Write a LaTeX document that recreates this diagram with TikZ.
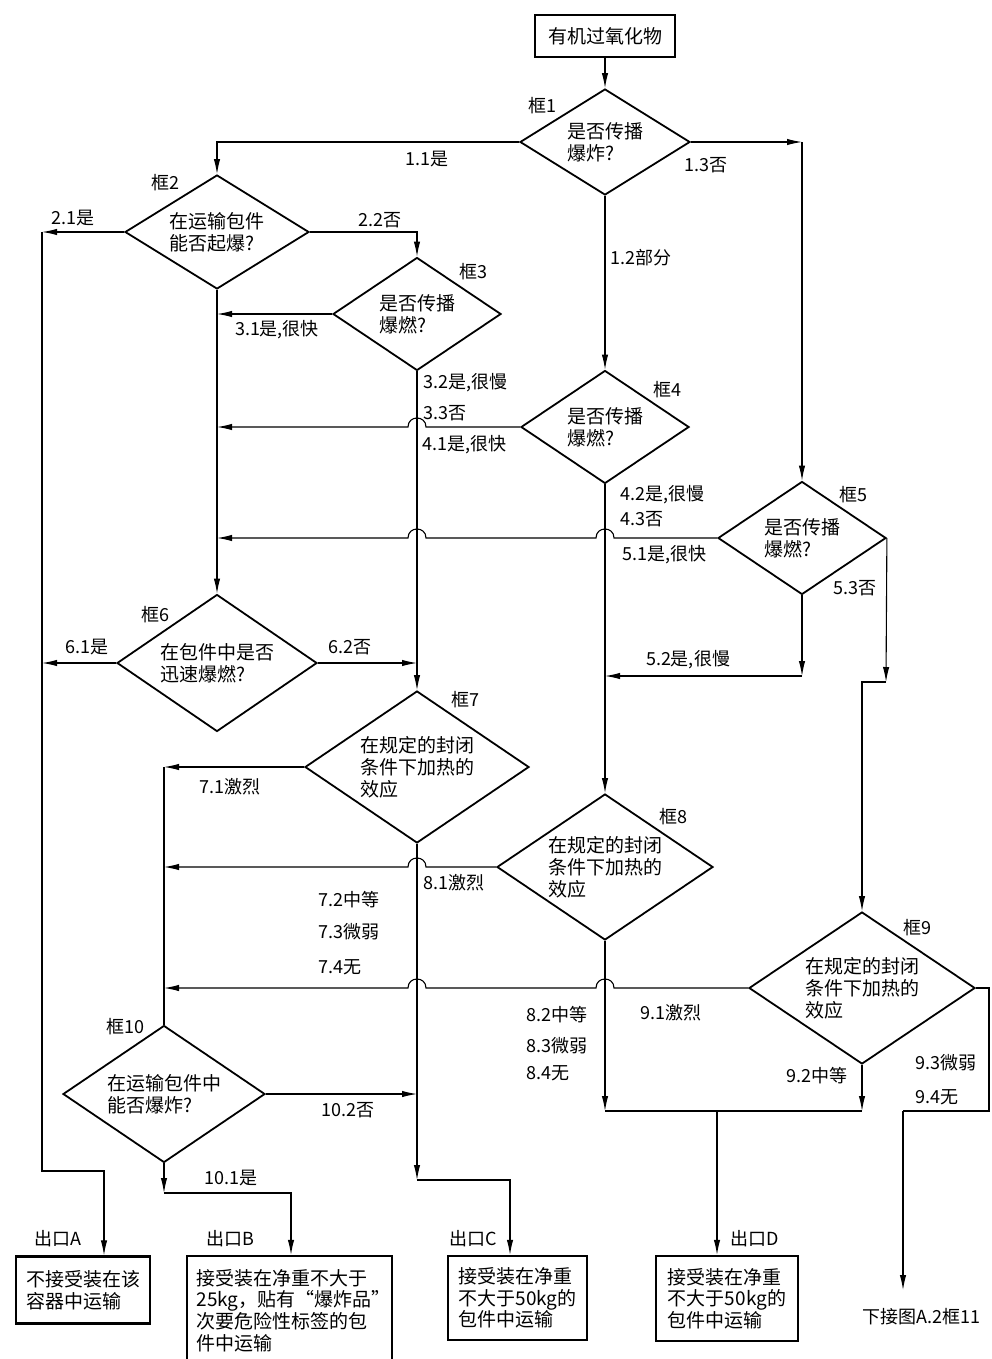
\documentclass[tikz,border=0pt]{standalone}
\usepackage{fontspec}
\newfontfamily\cjk{Noto Sans CJK SC}
\usetikzlibrary{shapes.geometric,arrows.meta}

\begin{document}
\begin{tikzpicture}[x=0.5pt,y=-0.5pt,line width=0.55pt,
    every node/.style={inner sep=0pt,font=\cjk\fontsize{9}{10}\selectfont},
    dec/.style={diamond,draw,line width=0.9pt,shape aspect=1.5,align=left,font=\cjk\fontsize{9.5}{11}\selectfont},
    exitbox/.style={draw,line width=1.1pt,align=left,font=\cjk\fontsize{9.5}{10.8}\selectfont},
    flow/.style={-{Latex[length=7.5pt,width=3.2pt]}}]
    \clip (0,0) rectangle (991,1359);

    \node[exitbox,minimum width=70pt,minimum height=21pt] (top) at (605,36) {有机过氧化物};
    \node[dec,minimum width=85pt,minimum height=53pt] (d1) at (605,142) {是否传播\\爆炸?};
    \node[dec,minimum width=92pt,minimum height=57pt] (d2) at (217,232) {在运输包件\\能否起爆?};
    \node[dec,minimum width=84pt,minimum height=56.5pt] (d3) at (417,314) {是否传播\\爆燃?};
    \node[dec,minimum width=84pt,minimum height=56.5pt] (d4) at (605,427) {是否传播\\爆燃?};
    \node[dec,minimum width=84pt,minimum height=56.5pt] (d5) at (802,538) {是否传播\\爆燃?};
    \node[dec,minimum width=100pt,minimum height=68.5pt] (d6) at (217,663) {在包件中是否\\迅速爆燃?};
    \node[dec,minimum width=112pt,minimum height=76pt] (d7) at (417,767) {在规定的封闭\\条件下加热的\\效应};
    \node[dec,minimum width=108pt,minimum height=73pt] (d8) at (605,867) {在规定的封闭\\条件下加热的\\效应};
    \node[dec,minimum width=113pt,minimum height=76pt] (d9) at (862,988) {在规定的封闭\\条件下加热的\\效应};
    \node[dec,minimum width=101pt,minimum height=68.5pt] (d10) at (164,1094) {在运输包件中\\能否爆炸?};

    \node (k1) at (542,106) {框1};
    \node (k2) at (165,183) {框2};
    \node (k3) at (473,272) {框3};
    \node (k4) at (667,390) {框4};
    \node (k5) at (853,495) {框5};
    \node (k6) at (155,615) {框6};
    \node (k7) at (465,700) {框7};
    \node (k8) at (673,817) {框8};
    \node (k9) at (917,928) {框9};
    \node (k10) at (125,1027) {框10};

    \node[exitbox,minimum width=67pt,minimum height=33.5pt] (exA) at (83,1290) {不接受装在该\\容器中运输};
    \node[exitbox,text width=93pt,minimum width=102.5pt,minimum height=54.5pt] (exB) at (289.5,1310.5) {接受装在净重不大于\\25kg，贴有“爆炸品”\\次要危险性标签的包\\件中运输};
    \node[exitbox,minimum width=69.5pt,minimum height=42pt] (exC) at (517.5,1298) {接受装在净重\\不大于50kg的\\包件中运输};
    \node[exitbox,minimum width=71pt,minimum height=42.5pt] (exD) at (727,1298.5) {接受装在净重\\不大于50kg的\\包件中运输};
    \node (oA) at (58,1239) {出口A};
    \node (oB) at (230,1239) {出口B};
    \node (oC) at (473,1239) {出口C};
    \node (oD) at (755,1239) {出口D};
    \node[anchor=west] (nx) at (862,1317) {下接图A.2框11};

    \draw[flow] (top) -- (d1);
    \draw[flow] (d1.west) -| (d2.north);
    \coordinate (c13) at (d5.north |- d1.east);
    \draw[flow] (d1.east) -- (c13);
    \draw[flow] (c13) -- (d5.north);
    \draw[flow] (d1.south) -- (d4.north);
    \coordinate (cA1) at (42,232);
    \coordinate (cA2) at (104,1171);
    \draw[flow] (d2.west) -- (cA1);
    \draw[flow] (cA1) |- (cA2) -- (cA2 |- exA.north);
    \draw[flow] (d2.east) -| (d3.north);
    \draw[flow] (d3.west) -- (d3.west -| d2.south);
    \draw[flow] (d2.south) -- (d6.north);
    \draw[flow] (d3.south) -- (d7.north);
    \draw[flow] (d4.west) -- (426,427) .. controls (426,415) and (408,415) .. (408,427) -- (d4.west -| d2.south);
    \draw[flow] (d4.south) -- (d8.north);
    \draw[flow] (d5.west) -- (614,538) .. controls (614,526) and (596,526) .. (596,538)
        -- (426,538) .. controls (426,526) and (408,526) .. (408,538) -- (d5.west -| d2.south);
    \coordinate (c52) at (802,676);
    \draw[flow] (d5.south) -- (c52);
    \draw[flow] (c52) -- (c52 -| d8.north);
    \coordinate (c53) at (886,682);
    \draw[flow] (d5.east) -- (c53);
    \draw[flow] (c53) -| (d9.north);
    \draw[flow] (d6.west) -- (d6.west -| cA1);
    \draw[flow] (d6.east) -- (d6.east -| d7.north);
    \coordinate (c71) at (164,767);
    \draw[flow] (d7.west) -- (c71);
    \draw (c71) -- (d10.north);
    \draw[flow] (d8.west) -- (426,867) .. controls (426,855) and (408,855) .. (408,867) -- (d8.west -| c71);
    \draw[flow] (d9.west) -- (614,988) .. controls (614,976) and (596,976) .. (596,988)
        -- (426,988) .. controls (426,976) and (408,976) .. (408,988) -- (d9.west -| c71);
    \coordinate (c72) at (417,1180);
    \coordinate (c72b) at (510,1180);
    \draw[flow] (d7.south) -- (c72);
    \draw[flow] (c72) -- (c72b) -- (c72b |- exC.north);
    \draw[flow] (d10.east) -- (d10.east -| d7.south);
    \coordinate (c101) at (164,1193);
    \coordinate (c101b) at (291,1193);
    \draw[flow] (d10.south) -- (c101);
    \draw[flow] (c101) -- (c101b) -- (c101b |- exB.north);
    \coordinate (c82) at (605,1111);
    \coordinate (c92) at (862,1111);
    \draw[flow] (d8.south) -- (c82);
    \draw[flow] (d9.south) -- (c92);
    \draw (c82) -- (c92);
    \coordinate (cD) at (717,1111);
    \draw[flow] (cD) -- (cD |- exD.north);
    \coordinate (c94) at (903,1111);
    \coordinate (c94b) at (903,1290);
    \draw (d9.east) -- (989,988) |- (c94);
    \draw[flow] (c94) -- (c94b);

    \node (l11) at (427,159) {1.1是};
    \node[anchor=west] (l12) at (610,258) {1.2部分};
    \node (l13) at (706,165) {1.3否};
    \node (l21) at (73,218) {2.1是};
    \node (l22) at (380,220) {2.2否};
    \node (l31) at (277,330) {3.1是,很快};
    \node[anchor=west] (l32) at (423,383) {3.2是,很慢};
    \node[anchor=west] (l33) at (423,413) {3.3否};
    \node[anchor=west] (l41) at (422,445) {4.1是,很快};
    \node[anchor=west] (l42) at (620,495) {4.2是,很慢};
    \node[anchor=west] (l43) at (620,519) {4.3否};
    \node[anchor=west] (l51) at (622,555) {5.1是,很快};
    \node (l52) at (688,660) {5.2是,很慢};
    \node (l53) at (855,588) {5.3否};
    \node (l61) at (87,647) {6.1是};
    \node (l62) at (350,647) {6.2否};
    \node (l71) at (230,787) {7.1激烈};
    \node[anchor=west] (l72) at (318,900) {7.2中等};
    \node[anchor=west] (l73) at (318,932) {7.3微弱};
    \node[anchor=west] (l74) at (318,967) {7.4无};
    \node[anchor=west] (l81) at (423,883) {8.1激烈};
    \node[anchor=west] (l82) at (526,1015) {8.2中等};
    \node[anchor=west] (l83) at (526,1046) {8.3微弱};
    \node[anchor=west] (l84) at (526,1073) {8.4无};
    \node[anchor=west] (l91) at (640,1013) {9.1激烈};
    \node (l92) at (817,1076) {9.2中等};
    \node[anchor=west] (l93) at (915,1063) {9.3微弱};
    \node[anchor=west] (l94) at (915,1097) {9.4无};
    \node (l101) at (231,1178) {10.1是};
    \node (l102) at (348,1110) {10.2否};
\end{tikzpicture}
\end{document}
